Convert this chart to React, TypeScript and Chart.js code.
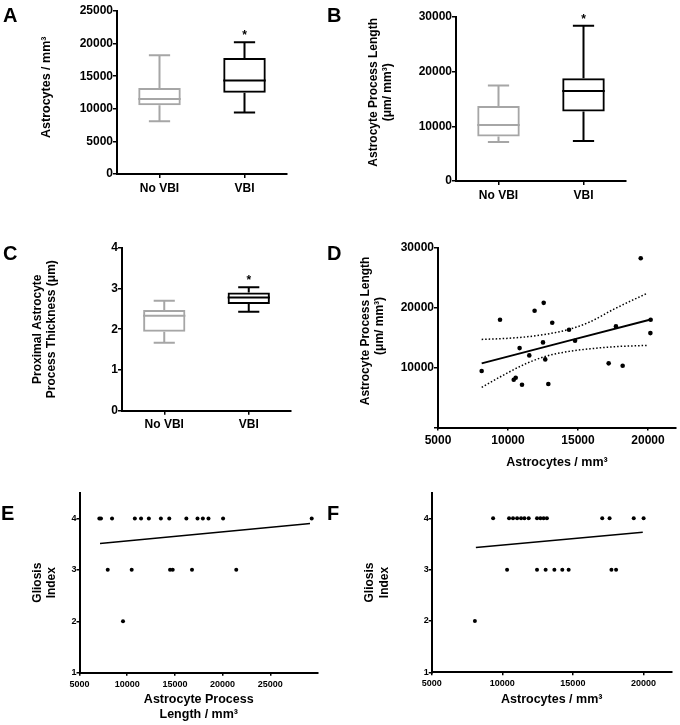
import React, { useEffect, useRef } from 'react';
import { Chart, registerables } from 'chart.js';

Chart.register(...registerables);

const FONT = "'Liberation Sans', Arial, Helvetica, sans-serif";
const GRAY = '#a6a6a6';
const BLACK = '#000000';

// ---------- Box plot data (panels A, B, C) ----------
const groups = ['No VBI', 'VBI'];
const groupColors = [GRAY, BLACK];
const significance = ['', '*'];

const astroMin = [8100, 9450];
const astroQ1 = [10550, 12450];
const astroMedian = [11500, 14350];
const astroQ3 = [13200, 17800];
const astroMax = [18200, 20200];
const astroTicks = [0, 5000, 10000, 15000, 20000, 25000];

const lengthMin = [7150, 7300];
const lengthQ1 = [8150, 12700];
const lengthMedian = [10250, 16450];
const lengthQ3 = [13700, 18800];
const lengthMax = [17450, 28400];
const lengthTicks = [0, 10000, 20000, 30000];

const thickMin = [1.67, 2.43];
const thickQ1 = [1.94, 2.62];
const thickMedian = [2.33, 2.78];
const thickQ3 = [2.47, 2.9];
const thickMax = [2.7, 3.03];
const thickTicks = [0, 1, 2, 3, 4];

// ---------- Panel D: process length vs astrocytes ----------
const dAstrocytes = [8120, 9430, 10410, 10550, 11000, 10830, 11520, 11900, 12550, 12500, 12660, 12880, 13160, 14360, 14790, 17190, 17710, 18190, 19480, 20190, 20170];
const dProcessLength = [9420, 17970, 7970, 8300, 7140, 13250, 12030, 19470, 20800, 14200, 11360, 7250, 17470, 16300, 14470, 10700, 16870, 10300, 28250, 17970, 15750];
const dFitX = [8120, 20190];
const dFitY = [10700, 18030];
const dBandX = [8120, 9900, 11330, 12760, 14360, 15860, 17530, 19910];
const dUpperBand = [14700, 14870, 15130, 15580, 16370, 17630, 19700, 22370];
const dLowerBand = [6700, 9030, 10700, 11920, 12700, 13130, 13470, 13700];
const dXTicks = [5000, 10000, 15000, 20000];
const dYTicks = [0, 10000, 20000, 30000];

// ---------- Panel E: gliosis vs process length ----------
const eProcessLength = [7080, 7250, 8410, 10800, 11450, 12270, 13530, 14410, 16200, 17370, 17930, 18520, 20050, 29340, 7960, 10470, 14490, 14770, 16790, 21430, 9560];
const eGliosis = [4, 4, 4, 4, 4, 4, 4, 4, 4, 4, 4, 4, 4, 4, 3, 3, 3, 3, 3, 3, 2];
const eFitX = [7150, 29160];
const eFitY = [3.51, 3.9];
const eXTicks = [5000, 10000, 15000, 20000, 25000];

// ---------- Panel F: gliosis vs astrocytes ----------
const fAstrocytes = [9350, 10480, 10760, 11050, 11330, 11570, 11870, 12460, 12700, 12930, 13160, 17080, 17600, 19310, 20010, 10340, 12460, 13070, 13690, 14250, 14700, 17730, 18060, 8060];
const fGliosis = [4, 4, 4, 4, 4, 4, 4, 4, 4, 4, 4, 4, 4, 4, 4, 3, 3, 3, 3, 3, 3, 3, 3, 2];
const fFitX = [8130, 19950];
const fFitY = [3.43, 3.73];
const fXTicks = [5000, 10000, 15000, 20000];
const gliosisTicks = [1, 2, 3, 4];

// ---------- helpers ----------
const boldFont = (size: number, lineHeight = 1.2) => ({ family: FONT, size, weight: 'bold' as const, lineHeight });

function yLinear(p: any) {
  return {
    type: 'linear',
    position: 'left',
    min: p.min,
    max: p.max,
    afterBuildTicks: (s: any) => {
      s.ticks = p.ticks.map((value: number) => ({ value }));
    },
    afterFit: (s: any) => {
      s.width = p.width;
    },
    ticks: {
      color: '#000',
      font: boldFont(p.tickSize),
      padding: p.tickPadding ?? 0,
      autoSkip: false,
      callback: (v: any) => (p.hideZero && v === 0 ? '' : String(v)),
    },
    grid: { drawOnChartArea: false, drawTicks: true, tickLength: p.tickLength, color: '#000', lineWidth: 1.5 },
    border: { display: true, color: '#000', width: 2 },
    title: {
      display: true,
      text: p.title,
      color: '#000',
      font: boldFont(p.titleSize, p.titleLH ?? 1.2),
      padding: { top: p.titleOffset, bottom: 0 },
    },
  };
}

function xLinear(p: any) {
  return {
    type: 'linear',
    position: 'bottom',
    min: p.min,
    max: p.max,
    afterBuildTicks: (s: any) => {
      s.ticks = p.ticks.map((value: number) => ({ value }));
    },
    afterFit: (s: any) => {
      s.height = p.height;
    },
    ticks: { color: '#000', font: boldFont(p.tickSize), padding: 3, autoSkip: false, maxRotation: 0, callback: (v: any) => String(v) },
    grid: { drawOnChartArea: false, drawTicks: true, tickLength: 3, color: '#000', lineWidth: 1.5 },
    border: { display: true, color: '#000', width: 2 },
    title: {
      display: true,
      text: p.title,
      color: '#000',
      font: boldFont(p.titleSize, p.titleLH ?? 1.2),
      padding: { top: 0, bottom: p.titleBottom },
    },
  };
}

function xCategory(height: number) {
  return {
    type: 'category',
    position: 'bottom',
    offset: true,
    afterFit: (s: any) => {
      s.height = height;
    },
    ticks: { color: '#000', font: boldFont(12), padding: 3, maxRotation: 0 },
    grid: { offset: false, drawOnChartArea: false, drawTicks: true, tickLength: 4, color: '#000', lineWidth: 1.5 },
    border: { display: true, color: '#000', width: 2 },
  };
}

function makeBoxPlugin(stats: any) {
  return {
    id: 'boxWhiskers',
    afterDatasetsDraw(chart: any) {
      const { ctx } = chart;
      const y = chart.scales.y;
      const meta = chart.getDatasetMeta(0);
      meta.data.forEach((bar: any, i: number) => {
        const cx = bar.x;
        const hw = bar.width / 2;
        const py = (v: number) => y.getPixelForValue(v);
        ctx.save();
        ctx.strokeStyle = groupColors[i];
        ctx.lineWidth = 2;
        ctx.beginPath();
        ctx.moveTo(cx - hw, py(stats.median[i]));
        ctx.lineTo(cx + hw, py(stats.median[i]));
        ctx.moveTo(cx, py(stats.q3[i]));
        ctx.lineTo(cx, py(stats.max[i]));
        ctx.moveTo(cx - hw / 2, py(stats.max[i]));
        ctx.lineTo(cx + hw / 2, py(stats.max[i]));
        ctx.moveTo(cx, py(stats.q1[i]));
        ctx.lineTo(cx, py(stats.min[i]));
        ctx.moveTo(cx - hw / 2, py(stats.min[i]));
        ctx.lineTo(cx + hw / 2, py(stats.min[i]));
        ctx.stroke();
        if (significance[i]) {
          ctx.fillStyle = '#000';
          ctx.font = `bold 12px ${FONT}`;
          ctx.textAlign = 'center';
          ctx.textBaseline = 'alphabetic';
          ctx.fillText(significance[i], cx, py(stats.max[i]) - 3);
        }
        ctx.restore();
      });
    },
  };
}

function boxConfig(stats: any, yOpts: any, xHeight: number, padding: any) {
  return {
    type: 'bar',
    data: {
      labels: groups,
      datasets: [
        {
          data: groups.map((_, i) => [stats.q1[i], stats.q3[i]]),
          backgroundColor: 'rgba(0,0,0,0)',
          borderColor: groupColors,
          borderWidth: 2,
          borderSkipped: false,
          barPercentage: 0.5,
          categoryPercentage: 1,
          inflateAmount: 0,
        },
      ],
    },
    options: {
      animation: false,
      responsive: false,
      events: [],
      layout: { padding },
      plugins: { legend: { display: false }, tooltip: { enabled: false } },
      scales: { x: xCategory(xHeight), y: yLinear(yOpts) },
    },
    plugins: [makeBoxPlugin(stats)],
  };
}

function pts(xs: number[], ys: number[]) {
  return xs.map((x, i) => ({ x, y: ys[i] }));
}

function scatterConfig(datasets: any[], xOpts: any, yOpts: any, padding: any) {
  return {
    type: 'scatter',
    data: { datasets },
    options: {
      animation: false,
      responsive: false,
      events: [],
      layout: { padding },
      plugins: { legend: { display: false }, tooltip: { enabled: false } },
      scales: { x: xLinear(xOpts), y: yLinear(yOpts) },
    },
  };
}

const pointSet = (data: any[], r: number) => ({
  data,
  pointRadius: r,
  pointBackgroundColor: '#000',
  pointBorderWidth: 0,
  showLine: false,
});

const lineSet = (data: any[], w: number, dash: number[] = []) => ({
  data,
  showLine: true,
  pointRadius: 0,
  borderColor: '#000',
  borderWidth: w,
  borderDash: dash,
  cubicInterpolationMode: 'monotone',
  fill: false,
});

// ---------- chart builders ----------
const buildA = () =>
  boxConfig(
    { min: astroMin, q1: astroQ1, median: astroMedian, q3: astroQ3, max: astroMax },
    { min: 0, max: 25000, ticks: astroTicks, width: 117, tickSize: 12, tickLength: 4, title: '   Astrocytes / mm³', titleSize: 12.5, titleOffset: 39.5 },
    31,
    { top: 11, right: 13, left: 0, bottom: 0 }
  );

const buildB = () =>
  boxConfig(
    { min: lengthMin, q1: lengthQ1, median: lengthMedian, q3: lengthQ3, max: lengthMax },
    { min: 0, max: 30000, ticks: lengthTicks, width: 116, tickSize: 12, tickLength: 4, title: ['    Astrocyte Process Length', '    (μm/ mm³)'], titleSize: 12, titleOffset: 26 },
    24,
    { top: 17, right: 14, left: 0, bottom: 0 }
  );

const buildC = () =>
  boxConfig(
    { min: thickMin, q1: thickQ1, median: thickMedian, q3: thickQ3, max: thickMax },
    { min: 0, max: 4, ticks: thickTicks, width: 122, tickSize: 12, tickLength: 4, title: ['Proximal Astrocyte', 'Process Thickness (μm)'], titleSize: 12, titleOffset: 30 },
    24.3,
    { top: 17.7, right: 9, left: 0, bottom: 0 }
  );

const buildD = () =>
  scatterConfig(
    [
      pointSet(pts(dAstrocytes, dProcessLength), 2.3),
      lineSet(pts(dFitX, dFitY), 2),
      lineSet(pts(dBandX, dUpperBand), 1.5, [1.5, 2]),
      lineSet(pts(dBandX, dLowerBand), 1.5, [1.5, 2]),
    ],
    { min: 5000, max: 22000, ticks: dXTicks, height: 52.5, tickSize: 12, title: 'Astrocytes / mm³', titleSize: 12.5, titleBottom: 9.5 },
    { min: 0, max: 30000, ticks: dYTicks, width: 98, tickSize: 12, tickLength: 4, hideZero: true, title: ['    Astrocyte Process Length', '       (μm/ mm³)'], titleSize: 12, titleOffset: 18 },
    { top: 17.7, right: 4, left: 0, bottom: 0 }
  );

const buildE = () =>
  scatterConfig(
    [pointSet(pts(eProcessLength, eGliosis), 2), lineSet(pts(eFitX, eFitY), 1.5)],
    { min: 5000, max: 30000, ticks: eXTicks, height: 52.3, tickSize: 9, title: ['Astrocyte Process', 'Length / mm³'], titleSize: 12.5, titleLH: 1.25, titleBottom: 2.2 },
    { min: 1, max: 4.5, ticks: gliosisTicks, width: 79.5, tickSize: 9, tickLength: 3, title: ['Gliosis', 'Index'], titleSize: 12, titleOffset: 30 },
    { top: 12.7, right: 12, left: 0, bottom: 0 }
  );

const buildF = () =>
  scatterConfig(
    [pointSet(pts(fAstrocytes, fGliosis), 2), lineSet(pts(fFitX, fFitY), 1.5)],
    { min: 5000, max: 22000, ticks: fXTicks, height: 52.7, tickSize: 9, title: 'Astrocytes / mm³', titleSize: 12.5, titleLH: 1.25, titleBottom: 17.9 },
    { min: 1, max: 4.5, ticks: gliosisTicks, width: 91.7, tickSize: 9, tickLength: 3, title: ['Gliosis', 'Index'], titleSize: 12, titleOffset: 22.8 },
    { top: 12.7, right: 8.3, left: 0, bottom: 0 }
  );

function ChartCanvas(props: { left: number; top: number; width: number; height: number; build: () => any }) {
  const ref = useRef<HTMLCanvasElement>(null);
  useEffect(() => {
    const chart = new Chart(ref.current as HTMLCanvasElement, props.build());
    return () => chart.destroy();
  }, []);
  return (
    <canvas
      ref={ref}
      width={props.width}
      height={props.height}
      style={{ position: 'absolute', left: props.left, top: props.top, width: props.width, height: props.height }}
    />
  );
}

const panelLetters = ['A', 'B', 'C', 'D', 'E', 'F'];
const letterPos = [
  { left: 3, top: 5.4 },
  { left: 327, top: 5.4 },
  { left: 3, top: 243 },
  { left: 327, top: 243 },
  { left: 1, top: 502.5 },
  { left: 327, top: 502.5 },
];

export default function App() {
  return (
    <div style={{ position: 'absolute', left: 0, top: 0, width: 680, height: 725, background: '#fff', overflow: 'hidden' }}>
      <ChartCanvas left={0} top={0} width={300} height={205} build={buildA} />
      <ChartCanvas left={340} top={0} width={300} height={205} build={buildB} />
      <ChartCanvas left={0} top={230} width={300} height={205} build={buildC} />
      <ChartCanvas left={340} top={230} width={340} height={250} build={buildD} />
      <ChartCanvas left={0} top={480} width={330} height={245} build={buildE} />
      <ChartCanvas left={340} top={480} width={340} height={245} build={buildF} />
      {panelLetters.map((l, i) => (
        <div
          key={l}
          style={{
            position: 'absolute',
            left: letterPos[i].left,
            top: letterPos[i].top,
            fontFamily: FONT,
            fontWeight: 'bold',
            fontSize: 20,
            lineHeight: '20px',
            color: '#000',
          }}
        >
          {l}
        </div>
      ))}
    </div>
  );
}
